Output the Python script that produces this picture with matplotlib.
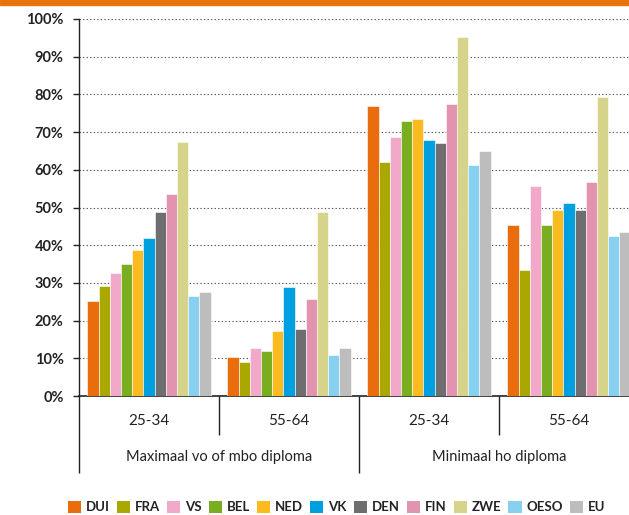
import numpy as np
import matplotlib
matplotlib.use("Agg")
import matplotlib.pyplot as plt
from matplotlib.patches import Patch, Rectangle

plt.rcParams['font.family'] = ['Lato', 'DejaVu Sans']

countries = ['DUI', 'FRA', 'VS', 'BEL', 'NED', 'VK', 'DEN', 'FIN', 'ZWE', 'OESO', 'EU']
colors = ['#E96D0C', '#AAA800', '#F2A8C8', '#7AAD1F', '#FBBB1E', '#009FE0',
          '#6E6E70', '#E193AF', '#D5D48A', '#88D0F0', '#BDBDBD']
age_labels = ['25-34', '55-64', '25-34', '55-64']
edu_labels = ['Maximaal vo of mbo diploma', 'Minimaal ho diploma']

# percentages per group (rows = groups, cols = countries)
max_25_34 = [25.3, 29.3, 32.7, 35.1, 38.6, 42.0, 48.8, 53.5, 67.3, 26.4, 27.6]
max_55_64 = [10.4, 9.1, 12.7, 12.0, 17.3, 28.8, 17.8, 25.8, 48.8, 10.9, 12.7]
min_25_34 = [76.9, 62.0, 68.8, 72.9, 73.4, 67.8, 67.2, 77.5, 95.3, 61.4, 64.9]
min_55_64 = [45.4, 33.3, 55.7, 45.3, 49.3, 51.1, 49.3, 56.8, 79.3, 42.5, 43.6]
groups = [max_25_34, max_55_64, min_25_34, min_55_64]

fig = plt.figure(figsize=(6.29, 5.15), dpi=100)
fig.patches.append(Rectangle((0, 1 - 5 / 515), 1, 5 / 515, transform=fig.transFigure,
                             color='#E8730C', zorder=5))

ax = fig.add_axes([79 / 629, 1 - 396 / 515, 560 / 629, 377 / 515])

bw = 0.08
for g, vals in enumerate(groups):
    for j, v in enumerate(vals):
        ax.bar(g + 0.06 + (j + 0.5) * bw, v, width=bw, color=colors[j],
               edgecolor='white', linewidth=0.4, zorder=3)

ax.set_xlim(0, 4)
ax.set_ylim(0, 100)
ax.set_yticks(np.arange(0, 101, 10))
ax.set_yticklabels([f'{t}%' for t in range(0, 101, 10)], fontsize=10.5, fontweight='bold', color='#222222')
for t in range(10, 101, 10):
    ax.axhline(t, color='#555555', linestyle=(0, (1.2, 2.0)), linewidth=0.8, zorder=1)

for s in ['top', 'right']:
    ax.spines[s].set_visible(False)
ax.spines['left'].set_color('#222222')
ax.spines['bottom'].set_color('#222222')
ax.spines['left'].set_linewidth(1.0)
ax.spines['bottom'].set_linewidth(1.2)
ax.tick_params(axis='y', length=4, width=1, color='#222222', pad=7)
ax.set_xticks([])

# separators below the x axis
trans = ax.get_xaxis_transform()
for xs, depth in [(0, -0.205), (1, -0.103), (2, -0.205), (3, -0.103)]:
    ax.plot([xs, xs], [0, depth], transform=trans, color='#222222', lw=1,
            clip_on=False, solid_capstyle='butt')

for g, lab in enumerate(age_labels):
    ax.text(g + 0.5, -0.066, lab, transform=trans, ha='center', va='center',
            fontsize=11, color='#222222')
for e, lab in enumerate(edu_labels):
    ax.text(2 * e + 1, -0.162, lab, transform=trans, ha='center', va='center',
            fontsize=10.5, color='#222222')

handles = [Patch(facecolor=c, edgecolor='none') for c in colors]
fig.legend(handles, countries, loc='center', bbox_to_anchor=(0.535, 1 - 507 / 515), ncol=11,
           frameon=False, handlelength=1.0, handleheight=1.1, handletextpad=0.35,
           columnspacing=0.55, prop={'size': 9.5, 'weight': 'bold'}, labelcolor='#222222')

fig.savefig('out.png', dpi=100)
